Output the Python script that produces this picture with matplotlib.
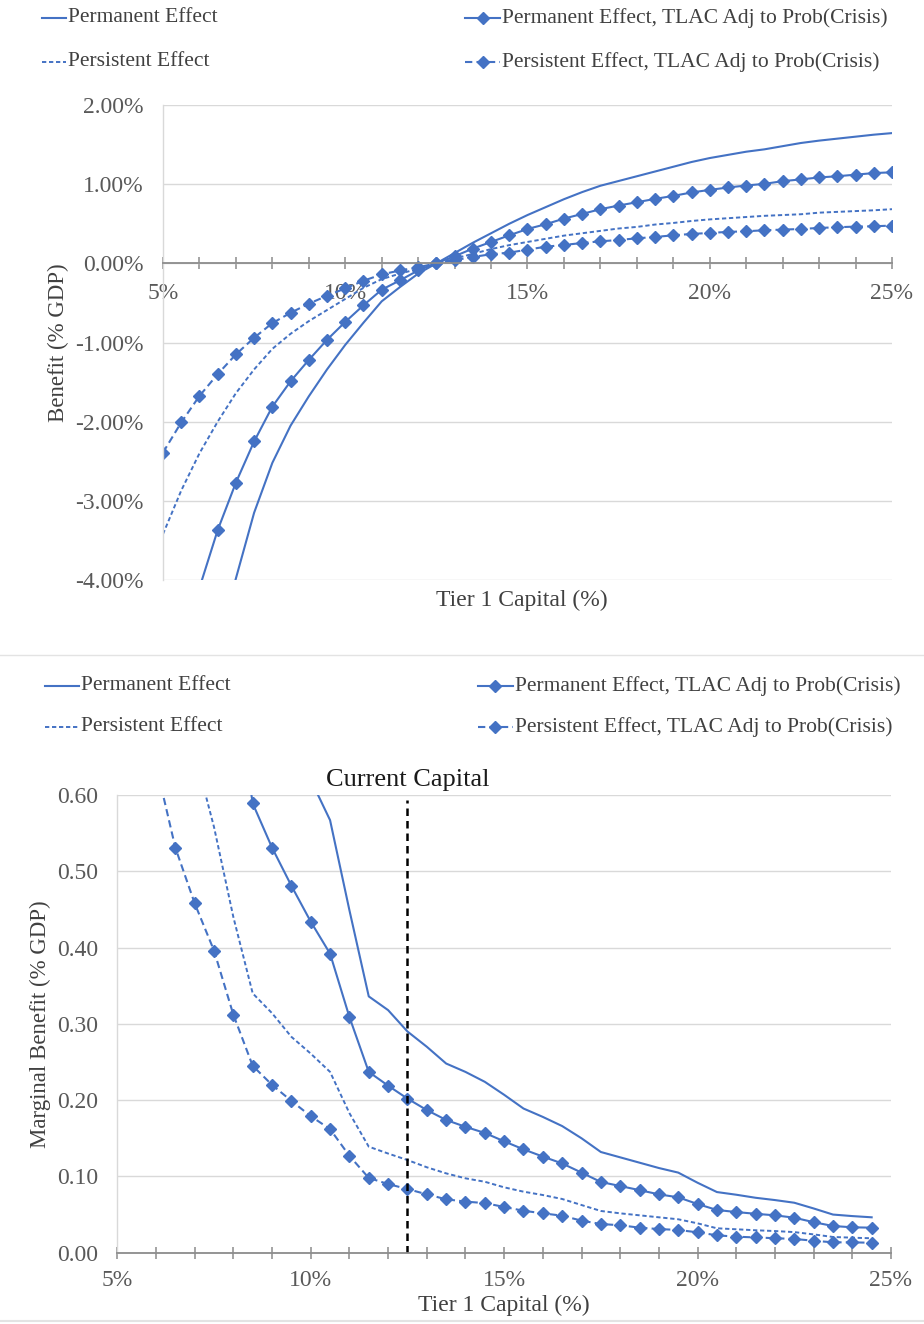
import matplotlib
matplotlib.use("Agg")
import matplotlib.pyplot as plt
from matplotlib.lines import Line2D
from matplotlib.ticker import MultipleLocator, FuncFormatter

# ---------------- data ----------------
# Tier 1 capital grid (%) for the cumulative benefit panel
capital_top = [5.0, 5.5, 6.0, 6.5, 7.0, 7.5, 8.0, 8.5, 9.0, 9.5,
               10.0, 10.5, 11.0, 11.5, 12.0, 12.5, 13.0, 13.5, 14.0, 14.5,
               15.0, 15.5, 16.0, 16.5, 17.0, 17.5, 18.0, 18.5, 19.0, 19.5,
               20.0, 20.5, 21.0, 21.5, 22.0, 22.5, 23.0, 23.5, 24.0, 24.5, 25.0]

benefit_permanent = [-8.30, -7.00, -5.85, -4.82, -3.98, -3.15, -2.52, -2.05, -1.68, -1.34,
                     -1.03, -0.75, -0.48, -0.30, -0.13, 0.00, 0.13, 0.26, 0.38, 0.50,
                     0.61, 0.71, 0.81, 0.90, 0.98, 1.04, 1.10, 1.16, 1.22, 1.28,
                     1.33, 1.37, 1.41, 1.44, 1.48, 1.52, 1.55, 1.575, 1.60, 1.625, 1.645]

benefit_persistent = [-3.42, -2.87, -2.40, -2.00, -1.64, -1.34, -1.08, -0.89, -0.73, -0.59,
                      -0.45, -0.31, -0.20, -0.13, -0.07, 0.00, 0.06, 0.12, 0.18, 0.23,
                      0.27, 0.31, 0.35, 0.38, 0.41, 0.44, 0.46, 0.49, 0.51, 0.535,
                      0.555, 0.57, 0.585, 0.60, 0.61, 0.62, 0.64, 0.65, 0.66, 0.67, 0.684]

benefit_permanent_tlac = [-5.80, -4.90, -4.10, -3.37, -2.77, -2.25, -1.81, -1.49, -1.22, -0.966,
                          -0.74, -0.53, -0.333, -0.215, -0.089, 0.00, 0.09, 0.186, 0.27, 0.354,
                          0.434, 0.494, 0.565, 0.624, 0.684, 0.73, 0.772, 0.814, 0.852, 0.895,
                          0.928, 0.958, 0.983, 1.004, 1.038, 1.06, 1.085, 1.10, 1.12, 1.14, 1.15]

benefit_persistent_tlac = [-2.39, -2.01, -1.675, -1.40, -1.15, -0.94, -0.755, -0.625, -0.51, -0.41,
                           -0.316, -0.22, -0.14, -0.09, -0.05, 0.00, 0.04, 0.08, 0.115, 0.135,
                           0.173, 0.21, 0.232, 0.257, 0.278, 0.295, 0.316, 0.333, 0.354, 0.371,
                           0.384, 0.397, 0.405, 0.418, 0.426, 0.434, 0.447, 0.456, 0.464, 0.468, 0.477]

# Tier 1 capital grid (%) for the marginal benefit panel
capital_bottom = [6.0, 6.5, 7.0, 7.5, 8.0, 8.5, 9.0, 9.5, 10.0, 10.5,
                  11.0, 11.5, 12.0, 12.5, 13.0, 13.5, 14.0, 14.5, 15.0, 15.5,
                  16.0, 16.5, 17.0, 17.5, 18.0, 18.5, 19.0, 19.5, 20.0, 20.5,
                  21.0, 21.5, 22.0, 22.5, 23.0, 23.5, 24.0, 24.5]

marginal_permanent = [2.20, 1.86, 1.60, 1.39, 1.09, 0.84, 0.76, 0.69, 0.62, 0.567,
                      0.449, 0.336, 0.318, 0.290, 0.270, 0.248, 0.237, 0.224, 0.207, 0.189,
                      0.178, 0.166, 0.150, 0.132, 0.125, 0.118, 0.111, 0.105, 0.0917, 0.0795,
                      0.076, 0.072, 0.069, 0.0655, 0.058, 0.050, 0.048, 0.0464]

marginal_persistent = [0.92, 0.76, 0.655, 0.558, 0.44, 0.34, 0.314, 0.283, 0.261, 0.237,
                       0.183, 0.139, 0.130, 0.1215, 0.112, 0.104, 0.0975, 0.093, 0.0857, 0.080,
                       0.0756, 0.0704, 0.0625, 0.0547, 0.0516, 0.049, 0.0464, 0.0438, 0.0385, 0.032,
                       0.0307, 0.0294, 0.0284, 0.027, 0.024, 0.0206, 0.0197, 0.0189]

marginal_permanent_tlac = [1.55, 1.30, 1.12, 0.97, 0.76, 0.589, 0.531, 0.481, 0.434, 0.392,
                           0.309, 0.237, 0.219, 0.202, 0.187, 0.174, 0.165, 0.157, 0.146, 0.1355,
                           0.126, 0.117, 0.105, 0.0927, 0.0874, 0.082, 0.0765, 0.0726, 0.0638, 0.056,
                           0.0533, 0.051, 0.049, 0.0459, 0.040, 0.035, 0.0333, 0.0328]

marginal_persistent_tlac = [0.64, 0.531, 0.458, 0.396, 0.312, 0.245, 0.220, 0.199, 0.179, 0.162,
                            0.127, 0.098, 0.090, 0.0835, 0.0765, 0.070, 0.067, 0.065, 0.060, 0.055,
                            0.0516, 0.0485, 0.042, 0.0376, 0.036, 0.0328, 0.031, 0.0298, 0.0267, 0.0228,
                            0.021, 0.020, 0.019, 0.018, 0.0157, 0.0136, 0.0136, 0.013]

current_capital = 12.5

series_labels = ["Permanent Effect", "Persistent Effect",
                 "Permanent Effect, TLAC Adj to Prob(Crisis)",
                 "Persistent Effect, TLAC Adj to Prob(Crisis)"]

# ---------------- styling ----------------
plt.rcParams['font.family'] = ['Liberation Serif', 'DejaVu Serif']
BLUE = "#4472C4"
GRID = "#D9D9D9"
AXIS = "#8C8C8C"
TICKTXT = "#595959"
W, H = 924, 1324

STYLES = [
    dict(color=BLUE, lw=1.5, ls='-'),
    dict(color=BLUE, lw=1.4, ls=(0, (2.2, 1.4))),
    dict(color=BLUE, lw=1.5, ls='-', marker='D', ms=6.5, mec=BLUE, mfc=BLUE),
    dict(color=BLUE, lw=1.5, ls=(0, (3.5, 2.0)), marker='D', ms=6.5, mec=BLUE, mfc=BLUE),
]

fig = plt.figure(figsize=(W / 100, H / 100), dpi=100)


def fx(px):
    return px / W


def fy(py):
    return 1 - py / H


def legend_entry(x0, x1, y, text, style):
    st = dict(style)
    marker = st.pop('marker', None)
    ms = st.pop('ms', None)
    st.pop('mec', None)
    st.pop('mfc', None)
    fig.add_artist(Line2D([fx(x0), fx(x1)], [fy(y), fy(y)], transform=fig.transFigure,
                          color=st['color'], lw=st['lw'], ls=st['ls']))
    if marker:
        fig.add_artist(Line2D([fx((x0 + x1) / 2)], [fy(y)], transform=fig.transFigure,
                              marker=marker, ms=ms, color=BLUE, ls='none'))
    fig.text(fx(x1 + 2), fy(y), text, fontsize=15.5, color="#404040", va='center', ha='left')


def style_axes(ax):
    ax.set_facecolor('white')
    for s in ('top', 'right'):
        ax.spines[s].set_visible(False)
    ax.spines['left'].set_color(GRID)
    ax.spines['left'].set_linewidth(1.0)
    ax.spines['bottom'].set_color(AXIS)
    ax.spines['bottom'].set_linewidth(1.3)
    ax.grid(axis='y', color=GRID, lw=1.0)
    ax.set_axisbelow(True)
    ax.tick_params(axis='y', length=0, labelsize=17, labelcolor=TICKTXT, pad=14)
    ax.tick_params(axis='x', which='both', direction='inout', length=9, width=1.1,
                   color=AXIS, labelsize=17, labelcolor=TICKTXT)
    ax.xaxis.set_major_locator(MultipleLocator(5))
    ax.xaxis.set_minor_locator(MultipleLocator(1))
    ax.xaxis.set_major_formatter(FuncFormatter(lambda v, p: f"{v:.0f}%"))


# ---------------- top panel: cumulative benefit ----------------
ax1 = fig.add_axes([fx(163), fy(580), fx(892) - fx(163), fy(105) - fy(580)])
style_axes(ax1)
top_series = [benefit_permanent, benefit_persistent, benefit_permanent_tlac, benefit_persistent_tlac]
for vals, st in zip(top_series, STYLES):
    ax1.plot(capital_top, vals, clip_on=True, **st)
ax1.set_xlim(5, 25)
ax1.set_ylim(-4, 2)
ax1.yaxis.set_major_locator(MultipleLocator(1))
ax1.yaxis.set_major_formatter(FuncFormatter(lambda v, p: f"{v:.2f}%"))
ax1.spines['bottom'].set_position(('data', 0))
ax1.tick_params(axis='x', which='both', pad=10)
ax1.set_ylabel("Benefit (% GDP)", fontsize=16.5, color="#404040", labelpad=4)
fig.text(fx(522), fy(600), "Tier 1 Capital (%)", fontsize=17, color="#404040",
         ha='center', va='center')

legend_entry(42, 66, 18, series_labels[0], STYLES[0])
legend_entry(42, 66, 62, series_labels[1], STYLES[1])
legend_entry(465, 500, 18, series_labels[2], STYLES[2])
legend_entry(465, 500, 62, series_labels[3], STYLES[3])

# separator between the two chart areas
fig.add_artist(Line2D([0, 1], [fy(655), fy(655)], transform=fig.transFigure, color="#E3E3E3", lw=1))

# ---------------- bottom panel: marginal benefit ----------------
ax2 = fig.add_axes([fx(117.3), fy(1252.7), fx(891) - fx(117.3), fy(795) - fy(1252.7)])
style_axes(ax2)
bottom_series = [marginal_permanent, marginal_persistent, marginal_permanent_tlac, marginal_persistent_tlac]
for vals, st in zip(bottom_series, STYLES):
    ax2.plot(capital_bottom, vals, clip_on=True, **st)
ax2.set_xlim(5, 25)
ax2.set_ylim(0, 0.6)
ax2.yaxis.set_major_locator(MultipleLocator(0.1))
ax2.yaxis.set_major_formatter(FuncFormatter(lambda v, p: f"{v:.2f}"))
ax2.tick_params(axis='x', which='both', pad=8)
ax2.axvline(current_capital, ymin=0, ymax=0.99, color='black', lw=1.8, ls=(0, (3, 2)))
ax2.text(current_capital, 0.605 + 0.0, "Current Capital", fontsize=19, color="#1a1a1a",
         ha='center', va='bottom', transform=ax2.transData)
ax2.set_ylabel("Marginal Benefit (% GDP)", fontsize=16.5, color="#404040", labelpad=4)
fig.text(fx(504), fy(1305), "Tier 1 Capital (%)", fontsize=17, color="#404040",
         ha='center', va='center')

legend_entry(45, 79, 686, series_labels[0], STYLES[0])
legend_entry(45, 79, 727, series_labels[1], STYLES[1])
legend_entry(478, 513, 686, series_labels[2], STYLES[2])
legend_entry(478, 513, 727, series_labels[3], STYLES[3])

fig.add_artist(Line2D([0, 1], [fy(1321), fy(1321)], transform=fig.transFigure, color="#E3E3E3", lw=1.5))

fig.savefig("out.png", dpi=100, facecolor='white')
